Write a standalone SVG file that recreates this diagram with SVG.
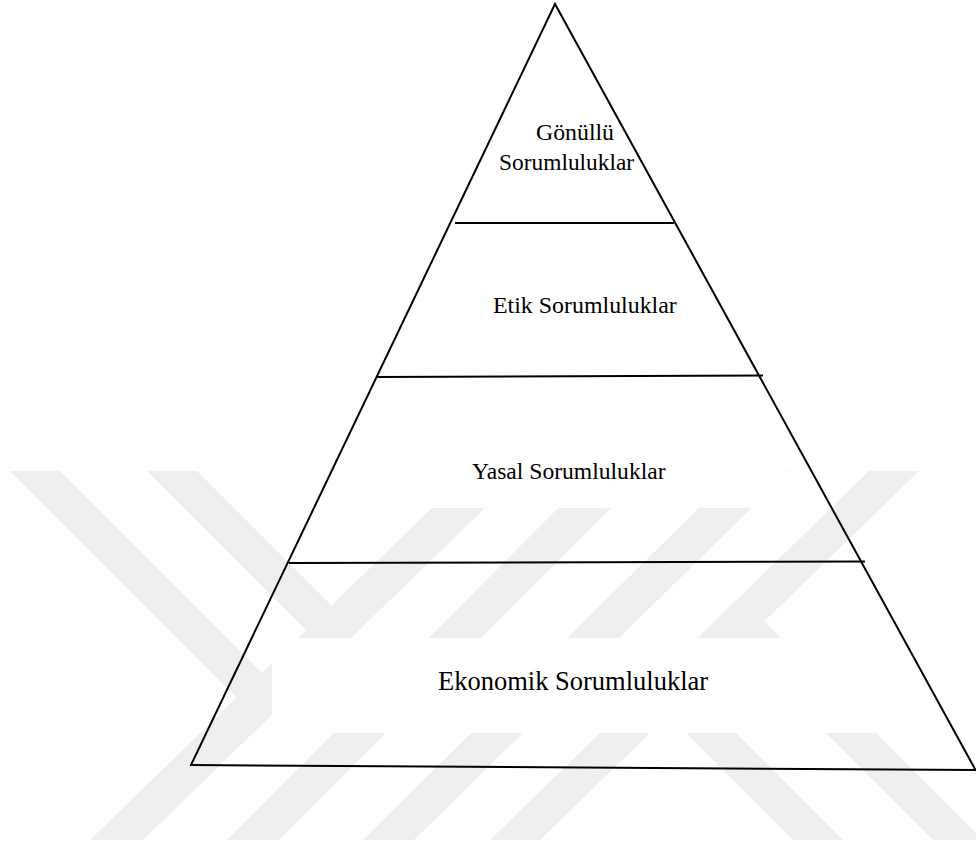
<svg xmlns="http://www.w3.org/2000/svg" width="976" height="851" viewBox="0 0 976 851">
<style>
.wm{fill:#efefef}
.box{fill:#ffffff}
.ln{stroke:#000;stroke-width:2;fill:none;stroke-linecap:square}
.lbl{fill:#000}
</style>
<rect x="0" y="0" width="976" height="851" fill="#ffffff"/>
<g id="watermark">
<polygon class="wm" points="470,471 523,471 143,840 90,840"/>
<polygon class="wm" points="10,471 60,471 288,699 237,698"/>
<polygon class="wm" points="147,471 197,471 331.5,605.5 332.3,656.3"/>
<polygon class="wm" points="595,471 648,471 279,840 227,840"/>
<polygon class="wm" points="736,471 789,471 414,840 363,840"/>
<polygon class="wm" points="869,471 919,471 540,840 490,840"/>
<polygon class="wm" points="643.5,690.5 693.5,690.5 843,840 793,840"/>
<polygon class="wm" points="739,646 764.5,621.5 983,840 933,840"/>
<rect class="box" x="300" y="440" width="486" height="68"/>
<rect class="box" x="272" y="638" width="607" height="95"/>
</g>
<g id="connectors">
<polyline class="ln" points="191,765 555,4 975,769"/>
<line class="ln" x1="191" y1="765" x2="976" y2="770"/>
<line class="ln" x1="456" y1="223" x2="673" y2="223"/>
<line class="ln" x1="378" y1="377" x2="762" y2="375.5"/>
<line class="ln" x1="290" y1="563" x2="864" y2="561.5"/>
</g>
<g id="tier-gonullu" font-family="'Liberation Serif', 'DejaVu Serif', serif">
<text class="lbl" x="536" y="140" font-size="23.8" font-family="'Liberation Serif', 'DejaVu Serif', serif">Gönüllü</text>
<text class="lbl" x="499" y="170" font-size="23.4" font-family="'Liberation Serif', 'DejaVu Serif', serif">Sorumluluklar</text>
</g>
<g id="tier-etik">
<text class="lbl" x="493" y="313" font-size="23.9" font-family="'Liberation Serif', 'DejaVu Serif', serif">Etik Sorumluluklar</text>
</g>
<g id="tier-yasal">
<text class="lbl" x="472" y="479" font-size="23.6" font-family="'Liberation Serif', 'DejaVu Serif', serif">Yasal Sorumluluklar</text>
</g>
<g id="tier-ekonomik">
<text class="lbl" x="438" y="690" font-size="26.5" font-family="'Liberation Serif', 'DejaVu Serif', serif">Ekonomik Sorumluluklar</text>
</g>
</svg>
